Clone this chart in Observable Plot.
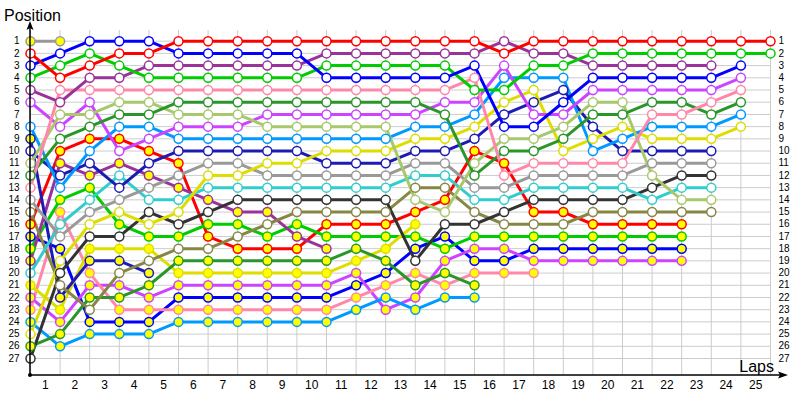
<!DOCTYPE html>
<html><head><meta charset="utf-8">
<script src="https://cdn.jsdelivr.net/npm/d3@7"></script>
<script src="https://cdn.jsdelivr.net/npm/@observablehq/plot@0.6"></script>
<style>body{margin:0;background:#fff}#chart{width:800px;height:400px}</style>
</head><body><div id="chart"></div>
<script>
const laps = [0,1,2,3,4,5,6,7,8,9,10,11,12,13,14,15,16,17,18,19,20,21,22,23,24,25];
const positions = [1,2,3,4,5,6,7,8,9,10,11,12,13,14,15,16,17,18,19,20,21,22,23,24,25,26,27];
const lapLabels = ["1","2","3","4","5","6","7","8","9","10","11","12","13","14","15","16","17","18","19","20","21","22","23","24","25"];

// Position per lap (index = lap 0..25)
const grey2    = [1,1];
const red      = [2,4,3,2,2,1,1,1,1,1,1,1,1,1,1,1,2,1,1,1,1,1,1,1,1,1];
const blue     = [3,2,1,1,1,2,2,2,2,2,4,4,4,4,4,3,8,8,6,4,4,4,4,4,3];
const green    = [4,3,2,3,4,4,4,4,4,4,3,3,3,3,3,5,5,3,3,2,2,2,2,2,2,2];
const purple   = [5,6,4,4,3,3,3,3,3,3,2,2,2,2,2,2,1,2,2,3,3,3,3,3];
const pink     = [13,5,5,5,5,5,5,5,5,5,5,5,5,5,5,4,12,11,11,11,11,7,7,6,5];
const dkgreen  = [12,9,8,7,7,6,6,6,6,6,6,6,6,6,7,12,10,10,9,7,7,6,6,7,6];
const lolive   = [11,7,7,6,6,7,7,7,8,8,8,8,8,14,15,11,9,9,8,6,6,12,14,14];
const magenta  = [6,8,6,10,9,8,8,8,7,7,7,7,7,7,6,6,3,7,7,5,5,5,5,5,4];
const lblue    = [8,13,10,8,8,9,9,9,9,9,9,9,9,8,8,7,4,4,4,10,9,8,8,8,7];
const yellow   = [25,19,16,15,16,15,12,12,11,11,10,10,10,9,9,8,6,5,10,9,8,9,9,9,8];
const navy     = [10,12,11,13,11,10,10,10,10,10,11,11,11,10,10,9,7,6,5,8,10,10,10,10];
const grey     = [14,17,15,14,13,12,11,11,12,12,12,12,12,11,11,13,13,12,12,12,12,11,11,11];
const cyan     = [20,16,14,12,14,14,13,13,13,13,13,13,13,12,12,14,14,13,13,13,13,14,13,13];
const black    = [27,20,17,17,15,16,15,14,14,14,14,14,14,19,16,16,15,14,14,14,14,13,12,12];
const olive    = [15,21,23,20,19,18,18,17,16,15,15,15,15,13,13,15,16,16,16,15,15,15,15,15];
const red2     = [16,10,9,9,10,11,17,18,18,18,16,16,16,15,14,10,11,15,15,16,16,16,16];
const blue2    = [17,18,24,24,24,22,22,22,22,22,22,21,20,18,17,19,19,18,18,18,18,18,18];
const green2   = [18,14,13,16,17,17,16,16,17,16,17,17,17,17,18,17,17,17,17,17,17,17,17];
const purple2  = [19,11,12,11,12,13,14,15,15,17,18];
const magenta2 = [22,24,21,21,22,21,21,21,21,21,21,20,23,22,19,18,18,19,19,19,19,19,19];
const pink2    = [23,15,20,23,23,23,23,23,23,23,23,22,21,20,21,20,20,20];
const lblue2   = [24,26,25,25,25,24,24,24,24,24,24,23,22,23,22,22];
const yellow2  = [21,23,18,18,18,20,20,20,20,20,20,19,18,16];
const navy2    = [9,22,19,19,20];
const dkgreen2 = [26,25,22,22,21,19,19,19,19,19,19,18,19,21,20,21];

const drivers = ["grey2","red2","blue2","green2","purple2","magenta2","pink2","lblue2","yellow2","navy2","dkgreen2",
  "olive","black","cyan","grey","navy","yellow","lblue","magenta","lolive","dkgreen","pink","purple","green","blue","red"];
const series = [grey2,red2,blue2,green2,purple2,magenta2,pink2,lblue2,yellow2,navy2,dkgreen2,
  olive,black,cyan,grey,navy,yellow,lblue,magenta,lolive,dkgreen,pink,purple,green,blue,red];

// styles (kept apart from values)
const palette = {red:"#ff0000",blue:"#0000ff",green:"#00cc00",purple:"#993399",pink:"#ff88aa",dkgreen:"#2a962a",
  lolive:"#a8c86c",magenta:"#cc44ff",lblue:"#0099ff",yellow:"#dddd00",navy:"#1c1cb4",grey:"#999999",
  cyan:"#33cccc",black:"#333333",olive:"#868645"};
const colorOf = d => palette[d.replace(/2$/,"")];
const fillOf = d => /2$/.test(d) ? "#ffff00" : "#ffffff";

const rows = [];
drivers.forEach((name, i) => {
  series[i].forEach((p, j) => {
    if (p != null) rows.push({driver: name, lap: laps[j], pos: p, color: colorOf(name), fill: fillOf(name)});
  });
});

const mL = 30, mR = 30, mT = 30, mB = 25, W = 800, H = 400;
const chart = Plot.plot({
  width: W, height: H,
  marginLeft: mL, marginRight: mR, marginTop: mT, marginBottom: mB,
  x: {domain: [0, 25]},
  y: {domain: [1, 27], range: [40.7, 358]},
  color: {type: "identity"},
  style: {fontFamily: "'Liberation Sans', Arial, sans-serif", background: "white", overflow: "visible"},
  marks: [
    Plot.gridX(laps, {stroke: "#cccccc", strokeOpacity: 1}),
    Plot.gridY(positions, {stroke: "#cccccc", strokeOpacity: 1}),
    Plot.axisX(laps.slice(1).map(l => l - 0.5), {tickSize: 0, tickPadding: 5, fontSize: 12, label: null,
      tickFormat: d => lapLabels[Math.round(d - 0.5)]}),
    Plot.axisY(positions, {anchor: "left", tickSize: 0, tickPadding: 11, fontSize: 10, label: null}),
    Plot.axisY(positions, {anchor: "right", tickSize: 0, tickPadding: 8, fontSize: 10, label: null}),
    Plot.line(rows, {x: "lap", y: "pos", z: "driver", stroke: "color", strokeWidth: 3}),
    Plot.dot(rows, {x: "lap", y: "pos", r: 4.5, stroke: "color", fill: "fill", strokeWidth: 1.5})
  ]
});

const svg = d3.select(chart);
const bottom = H - mB;
// axis lines with arrow heads
svg.append("path").attr("d", `M${mL},${bottom}V${mT - 4}`).attr("stroke", "#000").attr("stroke-width", 1.5).attr("fill", "none");
svg.append("path").attr("d", `M${mL},${mT - 9}l-3.5,9l3.5,-2l3.5,2z`).attr("fill", "#000");
svg.append("path").attr("d", `M${mL},${bottom}H${W - 20}`).attr("stroke", "#000").attr("stroke-width", 1.5).attr("fill", "none");
svg.append("path").attr("d", `M${W - 12},${bottom}l-10,-3.5l2,3.5l-2,3.5z`).attr("fill", "#000");
svg.append("circle").attr("cx", mL).attr("cy", bottom).attr("r", 2).attr("fill", "#000");
svg.append("text").text("Position").attr("x", 4).attr("y", 21).attr("text-anchor", "start").attr("font-size", 16).attr("fill", "#000");
svg.append("text").text("Laps").attr("x", W - 26).attr("y", 372).attr("text-anchor", "end").attr("font-size", 16).attr("fill", "#000");

document.getElementById("chart").appendChild(chart);
</script></body></html>
